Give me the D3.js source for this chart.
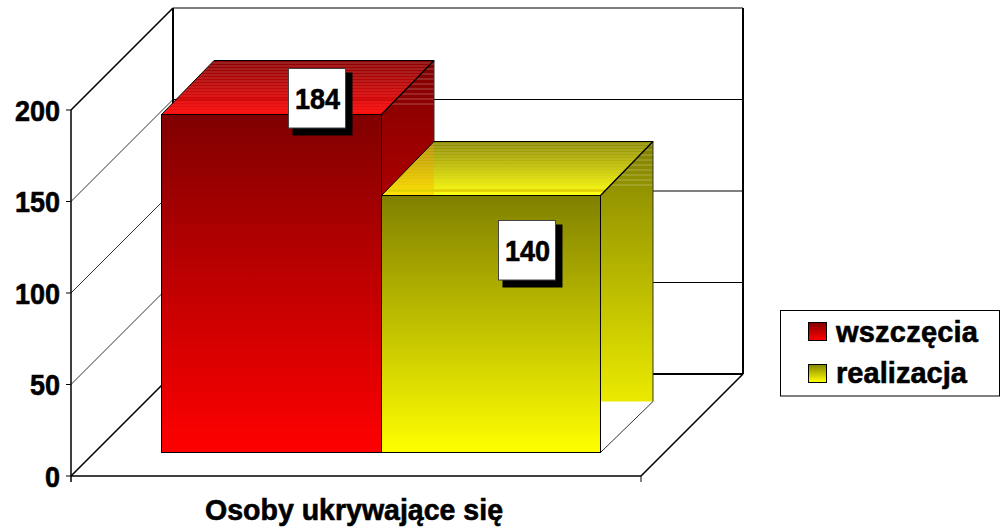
<!DOCTYPE html>
<html><head><meta charset="utf-8">
<script src="https://cdnjs.cloudflare.com/ajax/libs/d3/7.8.5/d3.min.js"></script>
<style>html,body{margin:0;padding:0;background:#fff}svg{display:block}text{font-family:"Liberation Sans",Arial,sans-serif;font-weight:bold;fill:#000;stroke:#000;stroke-width:.6px}</style>
</head><body><svg id="c" width="1003" height="530"></svg>
<script>
const categories = ["Osoby ukrywające się"];
const seriesNames = ["wszczęcia", "realizacja"];
const seriesValues = [184, 140];
const tickValues = [0, 50, 100, 150, 200];
const seriesDark = ["#800000", "#808000"];
const seriesBright = ["#ff0000", "#ffff00"];

const svg = d3.select("#c");
const defs = svg.append("defs");
const yWall = d3.scaleLinear().domain([0, 200]).range([476, 110]);
const yBar = d3.scaleLinear().domain([0, 200]).range([452, 85]);
const xBar = d3.scaleBand().domain(seriesNames).range([161, 601]);
const x0 = 71, x1 = 641, dx = 102, dy = 102;
const barDx = 52.5, barDy = 54, baseDy = 51;
const line = d3.line();
const grid = svg.append("g").attr("fill", "none").attr("stroke", "#000");

function grad(id, c0, c1, y0, y1) {
  const g = defs.append("linearGradient").attr("id", id).attr("gradientUnits", "userSpaceOnUse")
    .attr("x1", 0).attr("x2", 0).attr("y1", y0).attr("y2", y1);
  g.append("stop").attr("offset", 0).attr("stop-color", c0);
  g.append("stop").attr("offset", 1).attr("stop-color", c1);
  return `url(#${id})`;
}

// back wall and side wall grid
tickValues.forEach(v => {
  const y = yWall(v);
  const inner = v === 0 || v === 200;
  if (!inner) grid.append("path").attr("d", line([[x0, y], [x0 + dx, y - dy]])).attr("stroke-width", 1).attr("stroke", "#333");
  grid.append("path").attr("d", line([[x0 + dx, y - dy], [x1 + dx, y - dy]])).attr("stroke-width", v === 0 ? 2 : 1);
  grid.append("path").attr("d", line([[x0 - 5, y], [x0, y]])).attr("stroke-width", 1);
  svg.append("text").attr("text-anchor", "end").attr("font-size", 30)
    .attr("transform", `translate(60,${y + 10.5}) scale(0.9,1)`).text(v);
});
grid.append("path").attr("d", line([[x0, yWall(200)], [x0 + dx, yWall(200) - dy]])).attr("stroke-width", 1.6);
grid.append("path").attr("d", line([[x0, yWall(0)], [x0 + dx, yWall(0) - dy]])).attr("stroke-width", 1.6);
grid.append("path").attr("d", line([[x1, yWall(0)], [x1 + dx, yWall(0) - dy]])).attr("stroke-width", 1.6);
grid.append("path").attr("d", line([[x0 + dx, yWall(200) - dy], [x0 + dx, yWall(0) - dy]])).attr("stroke-width", 2);
grid.append("path").attr("d", line([[x1 + dx, yWall(200) - dy], [x1 + dx, yWall(0) - dy]])).attr("stroke-width", 2);
grid.append("path").attr("d", line([[x0, yWall(200)], [x0, yWall(0) + 6]])).attr("stroke-width", 1.5);
grid.append("path").attr("d", line([[x0, yWall(0)], [x1, yWall(0)]])).attr("stroke-width", 1.5);
grid.append("path").attr("d", line([[x1, yWall(0)], [x1, yWall(0) + 6]])).attr("stroke-width", 1);

// bars
const topBack = ["#880000", "#8c8a00"], topFront = ["#ff1010", "#ffff10"];
const bars = svg.append("g");
seriesNames.forEach((name, i) => {
  const xa = Math.round(xBar(name)) + 0.5, xb = xa + xBar.bandwidth() - (i ? 1 : 0);
  const yt = Math.round(yBar(seriesValues[i])) + 0.5, yb = yBar(0) + 0.5;
  const fTop = grad("top" + i, topBack[i], topFront[i], yt - barDy, yt);
  const fSide = grad("side" + i, seriesDark[i], seriesBright[i], yt - barDy, yb);
  const fFront = grad("front" + i, seriesDark[i], seriesBright[i], yt, yb);
  const g = bars.append("g");
  const backX = xb + barDx, backBase = yb - baseDy;
  // the side face ends level with the back foot of the bar
  const sidePts = [[xb, yt], [backX, yt - barDy], [backX, backBase], [xb, backBase]];
  const topPts = [[xa, yt], [xa + barDx, yt - barDy], [backX, yt - barDy], [xb, yt]];
  g.append("path").attr("d", line(sidePts) + "Z").attr("fill", fSide);
  defs.append("clipPath").attr("id", "cs" + i).append("path").attr("d", line(sidePts) + "Z");
  defs.append("clipPath").attr("id", "ct" + i).append("path").attr("d", line(topPts) + "Z");
  const sideStripes = g.append("g").attr("clip-path", `url(#cs${i})`);
  d3.range(yt - barDy + 3, yt - 6, 5).forEach(y => {
    sideStripes.append("rect").attr("x", xb).attr("y", y).attr("width", barDx + 1).attr("height", 1)
      .attr("fill", "#fff").attr("opacity", 0.3);
  });
  const tg = g.append("g").attr("clip-path", `url(#ct${i})`);
  tg.append("path").attr("d", line(topPts) + "Z").attr("fill", fTop);
  if (i === 1) {
    tg.append("rect").attr("x", xa).attr("y", yt - barDy).attr("width", barDx).attr("height", barDy)
      .attr("fill", grad("topOver", "#b08c00", "#ffe000", yt - barDy, yt));
  }
  tickValues.forEach(v => {
    const gy = yWall(v) - dy;
    if (gy > yt - barDy + 1 && gy < yt) {
      tg.append("rect").attr("x", xa).attr("y", gy - 2).attr("width", backX - xa).attr("height", 3)
        .attr("fill", i === 0 ? "#cc0000" : "#e0d000").attr("opacity", 0.9);
    }
  });
  d3.range(yt - barDy + 2, yt - 2, 3).forEach(y => {
    const t = (y - (yt - barDy)) / barDy;
    tg.append("rect").attr("x", xa).attr("y", y).attr("width", backX - xa).attr("height", 1)
      .attr("fill", "#fff").attr("opacity", 0.26 - 0.2 * t);
  });
  g.append("path").attr("d", line(topPts) + "Z").attr("fill", "none").attr("stroke", "#000").attr("stroke-width", 1);
  g.append("path").attr("d", line([[xb, yb], [backX, backBase], [backX, yt - barDy]]))
    .attr("fill", "none").attr("stroke", "#333").attr("stroke-width", 1);
  g.append("rect").attr("x", xa).attr("y", yt).attr("width", xb - xa).attr("height", yb - yt)
    .attr("fill", fFront).attr("stroke", "#000").attr("stroke-width", 1);
  bars.append("path").attr("d", line([[xb, yt], [backX, yt - barDy]])).attr("stroke", "#000").attr("stroke-width", 1.2);
});

// value labels
const labelX = [288.5, 498.5], labelY = [68.5, 220.5];
seriesNames.forEach((name, i) => {
  const lx = labelX[i], ly = labelY[i];
  svg.append("rect").attr("x", lx + 4).attr("y", ly + 4).attr("width", 60).attr("height", 63).attr("fill", "#000");
  svg.append("rect").attr("x", lx).attr("y", ly).attr("width", 57).attr("height", 59.5)
    .attr("fill", "#fff").attr("stroke", "#444").attr("stroke-width", 1);
  svg.append("text").attr("text-anchor", "middle").attr("font-size", 30)
    .attr("transform", `translate(${lx + 29},${ly + 40}) scale(0.9,1)`).text(seriesValues[i]);
});

// category label
svg.append("text").attr("x", 205).attr("y", 520).attr("font-size", 29)
  .attr("textLength", 298).attr("lengthAdjust", "spacingAndGlyphs").text(categories[0]);

// legend
svg.append("rect").attr("x", 780.5).attr("y", 310.5).attr("width", 219).attr("height", 85.5)
  .attr("fill", "#fff").attr("stroke", "#000").attr("stroke-width", 1);
const legendY = [322, 364], legendW = [142, 131], legendB = [342, 383];
seriesNames.forEach((name, i) => {
  svg.append("rect").attr("x", 808.5).attr("y", legendY[i] + 0.5).attr("width", 18).attr("height", 18)
    .attr("fill", grad("leg" + i, seriesDark[i], seriesBright[i], legendY[i], legendY[i] + 18))
    .attr("stroke", "#000");
  svg.append("text").attr("x", 836).attr("y", legendB[i]).attr("font-size", 29)
    .attr("textLength", legendW[i]).attr("lengthAdjust", "spacing").text(name);
});
</script></body></html>
